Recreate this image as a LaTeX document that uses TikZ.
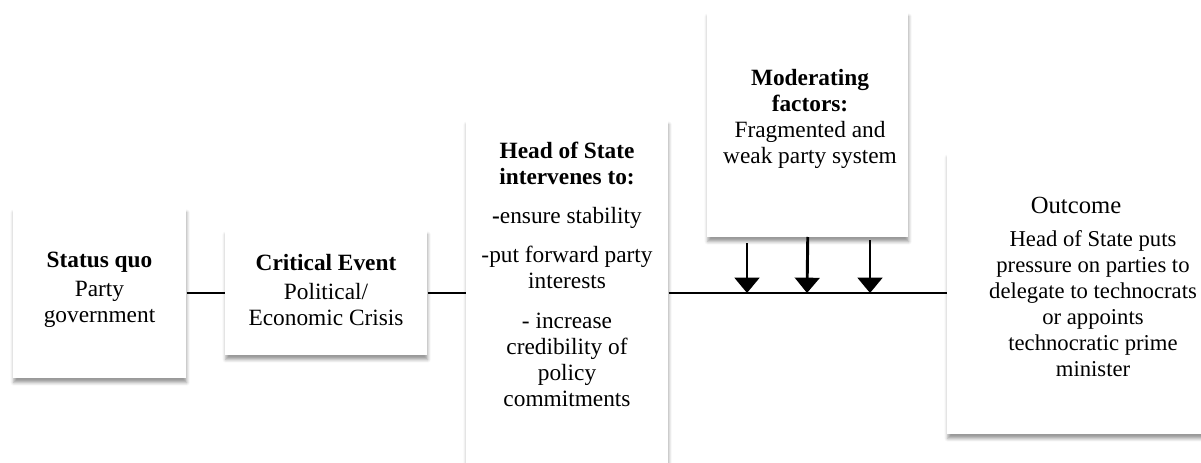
\documentclass[tikz,border=0pt]{standalone}
\usepackage{fontspec}
\setmainfont{Liberation Serif}
\usetikzlibrary{arrows.meta,shadows.blur}
\begin{document}
\begin{tikzpicture}[x=0.75pt,y=-0.75pt,
  box/.style={draw=none,fill=white,inner sep=0pt,anchor=north west,
    blur shadow={shadow xshift=0.3pt,shadow yshift=-3.2pt,shadow blur radius=2.4pt,shadow opacity=40}},
  txt/.style={align=center,inner sep=0pt,font=\fontsize{17.5}{19.5}\selectfont},
  conn/.style={line width=1.5pt},
  arr/.style={line width=2.2pt,-{Triangle[width=18.5pt,length=11.5pt]}}]
\useasboundingbox (0,0) rectangle (1201,463);

% boxes
\node[box,minimum width=173*0.75pt,minimum height=170*0.75pt] (b1) at (13,208) {};
\node[box,minimum width=202*0.75pt,minimum height=125*0.75pt] (b2) at (225,230) {};
\node[box,minimum width=202*0.75pt,minimum height=346*0.75pt] (b3) at (466,120) {};
\node[box,minimum width=201*0.75pt,minimum height=225*0.75pt] (b4) at (707,12) {};
\node[box,minimum width=303*0.75pt,minimum height=281*0.75pt] (b5) at (947,153) {};

% texts
\node[txt] (t1) at (99.5,290) {\textbf{Status quo}\\[2pt]Party\\government};
\node[txt] (t2) at (326,290) {\textbf{Critical Event}\\[2pt]Political/\\Economic Crisis};
\node[txt] (t3) at (567,274) {\textbf{Head of State}\\\textbf{intervenes to:}\\[10pt]\textbf{-}ensure stability\\[10pt]-put forward party\\interests\\[10pt]- increase\\credibility of\\policy\\commitments};
\node[txt] (t4) at (810,119) {\textbf{Moderating}\\\textbf{factors:}\\Fragmented and\\weak party system};
\node[txt,font=\fontsize{18.5}{19.5}\selectfont] (t5h) at (1076,205) {Outcome};
\node[txt,font=\fontsize{17}{19.5}\selectfont] (t5) at (1093,304) {Head of State puts\\pressure on parties to\\delegate to technocrats\\or appoints\\technocratic prime\\minister};

% connectors
\draw[conn] (b1.east) -- (b2.west |- b1.east);
\draw[conn] (b2.east |- b1.east) -- (b3.west |- b1.east);
\draw[conn] (b3.east |- b1.east) -- (b5.west |- b1.east);

% moderating arrows
\coordinate (a1s) at (747,243);
\coordinate (a1e) at (747,293);
\coordinate (a2e) at (807,293);
\coordinate (a3s) at (870,240);
\coordinate (a3e) at (870,293);
\draw[arr] (a1s) -- (a1e);
\draw[arr] (b4.south |- 0,237) -- (a2e);
\draw[arr] (a3s) -- (a3e);
\end{tikzpicture}
\end{document}
